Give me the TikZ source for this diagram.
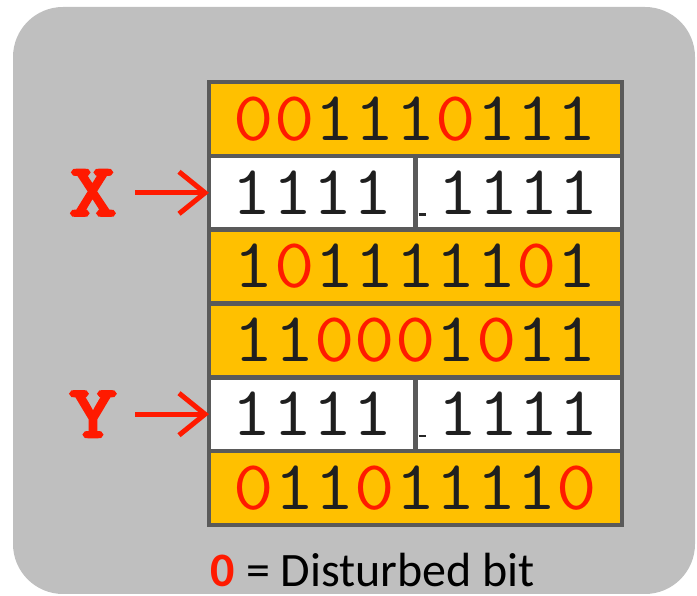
\documentclass[tikz,border=0pt]{standalone}
\usepackage{fontspec}
\setmainfont{Carlito}
\newfontfamily\bitfont{Latin Modern Mono}[FakeStretch=1.12]
\newfontfamily\lblfont{Latin Modern Mono}[FakeBold=4,FakeStretch=1.25]
\usetikzlibrary{arrows.meta,positioning,calc}
\definecolor{panelgray}{HTML}{BFBFBF}
\definecolor{cellyellow}{HTML}{FFC000}
\definecolor{gridgray}{HTML}{5A5A5A}
\definecolor{bitred}{HTML}{FF1A00}
\newcommand{\bz}{\textcolor{bitred}{0}}

\begin{document}
\begin{tikzpicture}[
  x=1pt, y=1pt,
  node distance=0pt,
  row/.style={rectangle, draw=gridgray, line width=4.5pt, fill=cellyellow, minimum width=413pt, minimum height=73.8pt, outer sep=0pt, inner sep=0pt, font=\bitfont\fontsize{70}{70}\selectfont, text=black!88},
  blank/.style={row, fill=white},
  half/.style={inner sep=0pt, font=\bitfont\fontsize{70}{70}\selectfont, text=black!88},
  lbl/.style={inner sep=0pt, font=\lblfont\fontsize{74}{74}\selectfont, text=bitred},
  ptr/.style={-{Straight Barb[length=26pt,width=42pt]}, line width=5pt, draw=bitred, shorten <=18pt}
]
\useasboundingbox (0,0) rectangle (697,596);
\fill[panelgray, rounded corners=50pt] (13,2) rectangle (695,589);

% the six rows of the array
\node[row] (r1) at (415.5,477) {\bz\bz111\bz111};
\node[blank, below=of r1] (r2) {};
\node[row, below=of r2] (r3) {1\bz11111\bz1};
\node[row, below=of r3] (r4) {11\bz\bz\bz1\bz11};
\node[blank, below=of r4] (r5) {};
\node[row, below=of r5] (r6) {\bz11\bz1111\bz};

% split white rows
\foreach \r in {r2,r5}{
  \draw[gridgray, line width=4.5pt] (\r.north) -- (\r.south);
  \node[half] (\r a) at ($(\r.center)+(-103,0)$) {1111};
  \node[half] (\r b) at ($(\r.center)+(103,0)$) {1111};
  \draw[black!85, line width=2.5pt] ($(\r.south)+(3,15)$) -- ++(7,0);
}

% pointers
\node[lbl, left=92pt of r2] (lblX) {X};
\node[lbl, left=92pt of r5] (lblY) {Y};
\draw[ptr] (lblX.east) -- (r2.west);
\draw[ptr] (lblY.east) -- (r5.west);

\node[anchor=base, inner sep=1pt, font=\fontsize{48}{48}\selectfont] (note) at (373,9) {\textcolor{bitred}{\bfseries 0} = Disturbed bit};
\end{tikzpicture}
\end{document}
